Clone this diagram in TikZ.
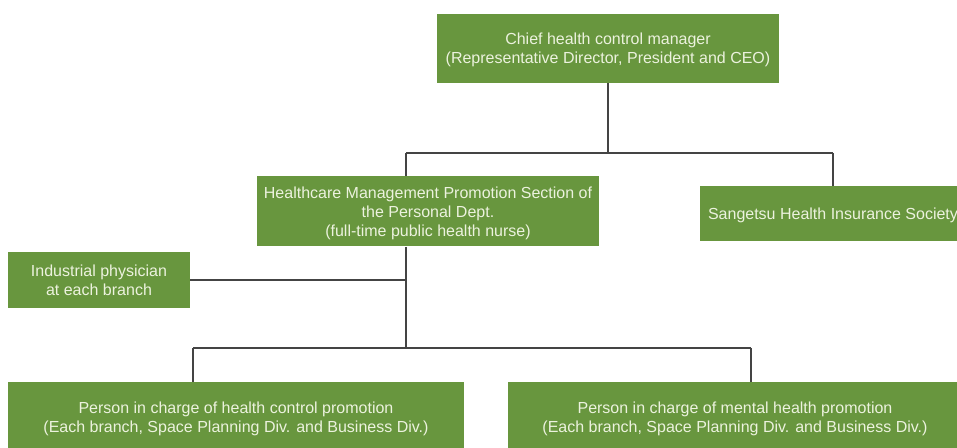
\documentclass[tikz,border=0pt]{standalone}
\usepackage{fontspec}
\setmainfont{Liberation Sans}
\definecolor{boxgreen}{RGB}{104,150,62}
\definecolor{boxtext}{RGB}{236,242,222}
\definecolor{linkgray}{RGB}{68,68,68}
\tikzset{
    orgbox/.style={fill=boxgreen, text=boxtext, align=center, inner sep=0pt,
        text depth=-2pt, font=\fontsize{12}{14.4}\selectfont},
    link/.style={draw=linkgray, line width=1.1pt}
}
\begin{document}
\begin{tikzpicture}[x=0.75pt, y=-0.75pt]
    \clip (0,0) rectangle (957,448);

    % === Boxes ===
    \node[orgbox, minimum width=342*0.75pt, minimum height=69*0.75pt] (chief) at (608,48.5)
        {Chief health control manager\\(Representative Director, President and CEO)};
    \node[orgbox, minimum width=342*0.75pt, minimum height=70*0.75pt] (hcm) at (428,211.5)
        {Healthcare Management Promotion Section of\\the Personal Dept.\\(full-time public health nurse)};
    \node[orgbox, minimum width=266*0.75pt, minimum height=55*0.75pt] (shis) at (833,213.5)
        {Sangetsu Health Insurance Society};
    \node[orgbox, minimum width=182*0.75pt, minimum height=56*0.75pt] (ind) at (99,280)
        {Industrial physician\\at each branch};
    \node[orgbox, minimum width=456*0.75pt, minimum height=71*0.75pt] (pcl) at (236,417.5)
        {Person in charge of health control promotion\\(Each branch, Space Planning Div. and Business Div.)};
    \node[orgbox, minimum width=454*0.75pt, minimum height=71*0.75pt] (pmh) at (735,417.5)
        {Person in charge of mental health promotion\\(Each branch, Space Planning Div. and Business Div.)};

    % === Junctions ===
    \coordinate (top) at (608,153);
    \coordinate (topl) at (406,153);
    \coordinate (topr) at (833,153);
    \coordinate (low) at (406,348);
    \coordinate (lowl) at (193,348);
    \coordinate (lowr) at (751,348);

    % === Connectors ===
    \draw[link] (chief) -- (top);
    \draw[link] (topl) -- (topr);
    \draw[link] (topl) -- (topl |- hcm.north);
    \draw[link] (topr) -- (shis);
    \draw[link] (hcm.south -| low) -- (low);
    \draw[link] (ind.east) -- (ind.east -| low);
    \draw[link] (lowl) -- (lowr);
    \draw[link] (lowl) -- (lowl |- pcl.north);
    \draw[link] (lowr) -- (lowr |- pmh.north);
\end{tikzpicture}
\end{document}
